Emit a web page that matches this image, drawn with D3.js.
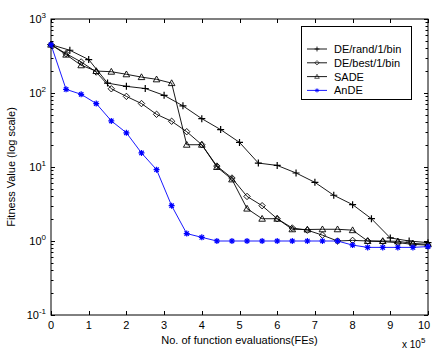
<!DOCTYPE html>
<html>
<head>
<meta charset="utf-8">
<script src="https://cdn.jsdelivr.net/npm/d3@7"></script>
<style>
  body { margin: 0; background: #fff; }
  svg { display: block; font-family: "Liberation Sans", Arial, sans-serif; }
</style>
</head>
<body>
<div id="chart"></div>
<script>
// data (x in units of 10^5 FEs)
const xTicks = [0, 1, 2, 3, 4, 5, 6, 7, 8, 9, 10];
const yTickExp = [-1, 0, 1, 2, 3];

const randX = [0, 0.5, 1, 1.5, 2, 2.5, 3, 3.5, 4, 4.5, 5, 5.5, 6, 6.5, 7, 7.5, 8, 8.5, 9, 9.5, 10];
const randY = [450, 378, 283, 136, 123, 115, 93, 67, 45, 32, 21.5, 11.3, 10.5, 8.3, 6.2, 4.15, 3.1, 2.0, 1.1, 1.0, 0.95];

const stepX = [0, 0.4, 0.8, 1.2, 1.6, 2.0, 2.4, 2.8, 3.2, 3.6, 4.0, 4.4, 4.8, 5.2, 5.6, 6.0, 6.4, 6.8, 7.2, 7.6, 8.0, 8.4, 8.8, 9.2, 9.6, 10];
const bestY = [450, 340, 263, 192, 114, 90, 72, 51.5, 41.5, 30, 20, 10.3, 7.1, 4.0, 3.0, 2.0, 1.5, 1.4, 1.2, 1.0, 1.02, 1.0, 0.98, 0.95, 0.9, 0.88];
const sadeY = [450, 330, 237, 198, 194, 179, 164, 153, 136, 20, 20, 10, 6.8, 2.74, 2.0, 2.0, 1.44, 1.43, 1.44, 1.44, 1.4, 1.0, 1.0, 0.99, 0.93, 0.9];
const andeY = [450, 112, 96, 72, 42, 29, 15.5, 9.2, 3.0, 1.26, 1.12, 1.0, 1.0, 1.0, 1.0, 1.0, 1.0, 1.0, 1.0, 1.0, 0.88, 0.82, 0.82, 0.82, 0.82, 0.84];

const series = [
  { name: "DE/rand/1/bin", xs: randX, ys: randY, color: "#000", marker: "plus" },
  { name: "DE/best/1/bin", xs: stepX, ys: bestY, color: "#000", marker: "diamond" },
  { name: "SADE", xs: stepX, ys: sadeY, color: "#000", marker: "triangle" },
  { name: "AnDE", xs: stepX, ys: andeY, color: "#0000ff", marker: "star" }
];

// layout
const width = 432, height = 349;
const plot = { left: 51, top: 19, right: 428, bottom: 315 };

const svg = d3.select("#chart").append("svg")
  .attr("width", width).attr("height", height);

const x = d3.scaleLinear().domain([0, 10]).range([plot.left, plot.right]);
const y = d3.scaleLog().domain([0.1, 1000]).range([plot.bottom, plot.top]);

// markers
const drawMarker = (g, type, color) => {
  if (type === "plus") {
    g.append("path").attr("d", "M-3.5,0H3.5M0,-3.5V3.5")
      .attr("stroke", color).attr("stroke-width", 1.2).attr("fill", "none");
  } else if (type === "diamond") {
    g.append("path").attr("d", "M0,-3.2L3.2,0L0,3.2L-3.2,0Z")
      .attr("stroke", color).attr("stroke-width", 0.9).attr("fill", "none");
  } else if (type === "triangle") {
    g.append("path").attr("d", "M0,-3.3L3.3,2.5L-3.3,2.5Z")
      .attr("stroke", color).attr("stroke-width", 0.9).attr("fill", "none");
  } else if (type === "star") {
    g.append("path").attr("d", "M-3,0H3M0,-3V3M-2.2,-2.2L2.2,2.2M-2.2,2.2L2.2,-2.2")
      .attr("stroke", color).attr("stroke-width", 1.2).attr("fill", "none");
  }
};

// axes box
const axes = svg.append("g");
axes.append("rect")
  .attr("x", plot.left).attr("y", plot.top)
  .attr("width", plot.right - plot.left).attr("height", plot.bottom - plot.top)
  .attr("fill", "none").attr("stroke", "#000").attr("stroke-width", 1);

// x ticks (inward, bottom and top)
xTicks.forEach(t => {
  const px = Math.round(x(t)) + 0.5;
  axes.append("line").attr("x1", px).attr("x2", px)
    .attr("y1", plot.bottom).attr("y2", plot.bottom - 4).attr("stroke", "#000");
  axes.append("line").attr("x1", px).attr("x2", px)
    .attr("y1", plot.top).attr("y2", plot.top + 4).attr("stroke", "#000");
  // last label would run off the right edge, keep it inside
  axes.append("text").attr("x", Math.min(x(t), width - 8)).attr("y", 329)
    .attr("text-anchor", "middle").attr("font-size", 11).text(t);
});

// y ticks, major + minor (log)
yTickExp.forEach(e => {
  const py = Math.round(y(Math.pow(10, e))) + 0.5;
  axes.append("line").attr("x1", plot.left).attr("x2", plot.left + 4)
    .attr("y1", py).attr("y2", py).attr("stroke", "#000");
  axes.append("line").attr("x1", plot.right).attr("x2", plot.right - 4)
    .attr("y1", py).attr("y2", py).attr("stroke", "#000");
  const lab = axes.append("text").attr("x", 46).attr("y", y(Math.pow(10, e)) + 4)
    .attr("text-anchor", "end").attr("font-size", 11);
  lab.append("tspan").text("10");
  lab.append("tspan").attr("dy", -5).attr("font-size", 8).text(e);
  if (e < 3) {
    for (let m = 2; m <= 9; m++) {
      const my = Math.round(y(m * Math.pow(10, e))) + 0.5;
      axes.append("line").attr("x1", plot.left).attr("x2", plot.left + 2.5)
        .attr("y1", my).attr("y2", my).attr("stroke", "#000");
      axes.append("line").attr("x1", plot.right).attr("x2", plot.right - 2.5)
        .attr("y1", my).attr("y2", my).attr("stroke", "#000");
    }
  }
});

// axis titles
svg.append("text")
  .attr("transform", `translate(15,${(plot.top + plot.bottom) / 2}) rotate(-90)`)
  .attr("text-anchor", "middle").attr("font-size", 11)
  .text("Fitness Value (log scale)");
svg.append("text").attr("x", (plot.left + plot.right) / 2).attr("y", 344)
  .attr("text-anchor", "middle").attr("font-size", 11)
  .text("No. of function evaluations(FEs)");
const ex = svg.append("text").attr("x", 402).attr("y", 348).attr("font-size", 10);
ex.append("tspan").text("x 10");
ex.append("tspan").attr("dy", -5).attr("font-size", 8).text("5");

// lines
const line = d3.line().x(d => x(d[0])).y(d => y(d[1]));
series.forEach(s => {
  const pts = s.xs.map((v, i) => [v, s.ys[i]]);
  const g = svg.append("g");
  g.append("path").datum(pts).attr("d", line)
    .attr("fill", "none").attr("stroke", s.color).attr("stroke-width", 0.9);
  pts.forEach(p => {
    drawMarker(g.append("g").attr("transform", `translate(${x(p[0])},${y(p[1])})`), s.marker, s.color);
  });
});

// legend
const lg = svg.append("g");
lg.append("rect").attr("x", 301.5).attr("y", 26.5).attr("width", 110).attr("height", 73)
  .attr("fill", "#fff").attr("stroke", "#000");
series.forEach((s, i) => {
  const ly = 49 + i * 13.8;
  lg.append("line").attr("x1", 307).attr("x2", 327).attr("y1", ly).attr("y2", ly)
    .attr("stroke", s.color).attr("stroke-width", 0.9);
  drawMarker(lg.append("g").attr("transform", `translate(317,${ly}) scale(0.7)`), s.marker, s.color);
  lg.append("text").attr("x", 334).attr("y", ly + 4).attr("font-size", 11).text(s.name);
});
</script>
</body>
</html>
